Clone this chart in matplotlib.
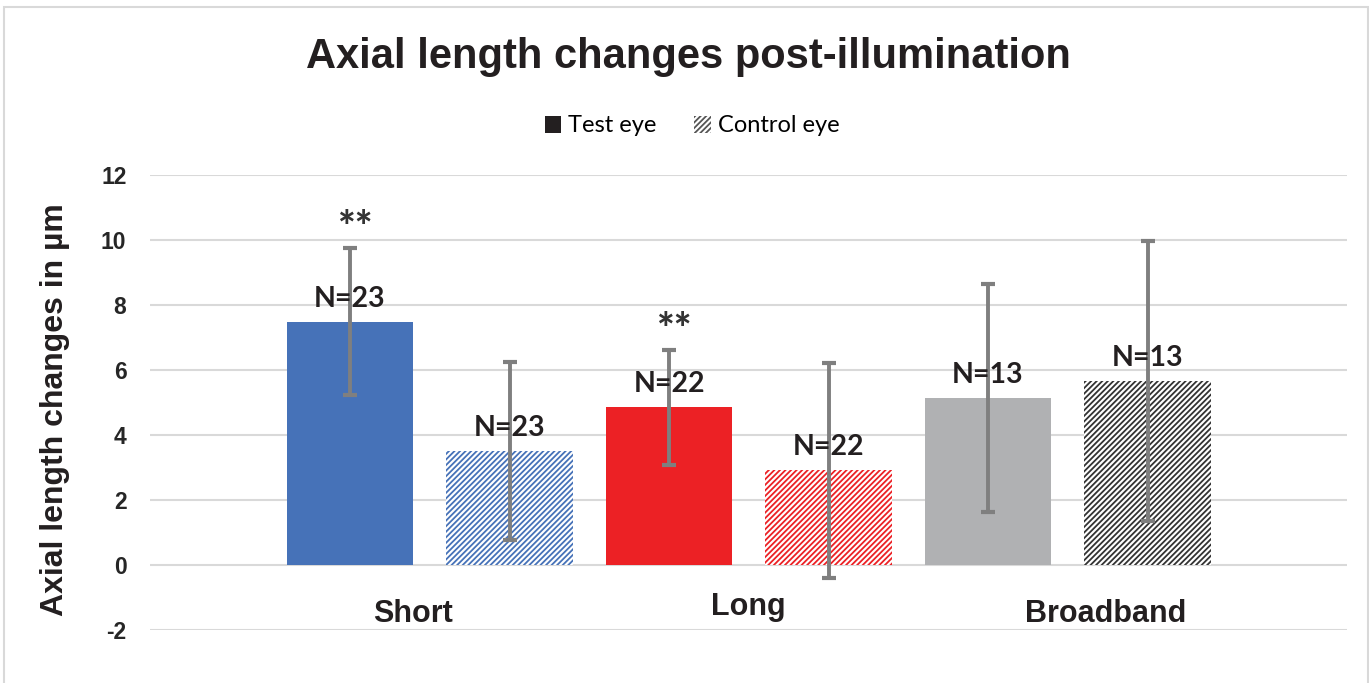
import matplotlib
matplotlib.use("Agg")
import matplotlib.pyplot as plt
from matplotlib.patches import Patch, Rectangle
import numpy as np

categories = ["Short", "Long", "Broadband"]
series = ["Test eye", "Control eye"]
test_vals = [7.48, 4.86, 5.14]
test_err = [2.26, 1.77, 3.52]
control_vals = [3.51, 2.92, 5.66]
control_err = [2.74, 3.31, 4.30]
test_n = ["N=23", "N=22", "N=13"]
control_n = ["N=23", "N=22", "N=13"]
stars = ["**", "**", ""]
yticks = [-2, 0, 2, 4, 6, 8, 10, 12]

colors = ["#4672B8", "#EC2125", "#B0B1B3"]
hatch_colors = ["#4672B8", "#EC2125", "#333333"]

plt.rcParams['axes.unicode_minus'] = False
plt.rcParams['hatch.linewidth'] = 1.3

W, H = 1369, 683
fig = plt.figure(figsize=(W / 100, H / 100), dpi=100)
ax = fig.add_axes([150 / W, (H - 630) / H, (1347 - 150) / W, (630 - 175) / H])

pitch = 1.0
width = 0.79
x_test = np.arange(len(categories)) * 2 * pitch
x_ctrl = x_test + pitch

ax.set_ylim(-2, 12)
ax.set_xlim((150 - 350) / 159.5, (1347 - 350) / 159.5)
ax.set_yticks(yticks)
ax.yaxis.grid(True, color="#D9D9D9", linewidth=1.5)
ax.set_axisbelow(True)
for s in ax.spines.values():
    s.set_visible(False)
ax.tick_params(axis="y", length=0, pad=17)
ax.tick_params(axis="x", length=0)
ax.set_xticks([])
for lab in ax.get_yticklabels():
    lab.set_fontfamily("Liberation Sans")
    lab.set_fontweight("bold")
    lab.set_fontsize(16.5)
    lab.set_color("#262626")

ax.bar(x_test, test_vals, width=width, color=colors, linewidth=0, zorder=2)
ax.bar(x_ctrl, control_vals, width=width, facecolor="white",
       edgecolor=hatch_colors, hatch="//////", linewidth=0, zorder=2)

err_kw = dict(fmt="none", ecolor="#7F7F7F", elinewidth=2.8, capsize=5, capthick=3, zorder=4)
ax.errorbar(x_test, test_vals, yerr=test_err, **err_kw)
ax.errorbar(x_ctrl, control_vals, yerr=control_err, **err_kw)

lab_kw = dict(ha="center", va="bottom", fontsize=20.5, fontweight="bold",
              family="Lato", color="#231F20", zorder=5)
for x, v, t in zip(x_test, test_vals, test_n):
    ax.annotate(t, (x, v), xytext=(0, 7), textcoords="offset points", **lab_kw)
for x, v, t in zip(x_ctrl, control_vals, control_n):
    ax.annotate(t, (x, v), xytext=(0, 7), textcoords="offset points", **lab_kw)
for x, v, e, s in zip(x_test, test_vals, test_err, stars):
    if s:
        ax.annotate(s, (x + 0.03, v + e), xytext=(0, 0), textcoords="offset points",
                    ha="center", va="bottom", fontsize=30, fontweight="black",
                    family="Lato", color="#333333")

cat_offsets = [-0.105, 0.0, 0.24]
cat_y = [-1.5, -1.3, -1.5]
for i, c in enumerate(categories):
    ax.text((x_test[i] + x_ctrl[i]) / 2 + cat_offsets[i], cat_y[i], c, ha="center", va="center",
            fontsize=22, fontweight="bold", family="Liberation Sans", color="#231F20")

ax.set_ylabel("Axial length changes in µm", fontsize=23, fontweight="bold",
              family="Liberation Sans", color="#231F20")
ax.yaxis.set_label_coords((70 - 150) / (1347 - 150), (630 - 410) / (630 - 175))

fig.text(688 / W, 1 - 57 / H, "Axial length changes post-illumination", ha="center", va="center",
         fontsize=30, fontweight="bold", family="Liberation Sans", color="#231F20")

handles = [Patch(facecolor="#231F20", edgecolor="#231F20", linewidth=0),
           Patch(facecolor="white", edgecolor="#555555", hatch="//////", linewidth=0)]
fig.legend(handles, series, loc="center", bbox_to_anchor=(692 / W, 1 - 126 / H), ncol=2,
           frameon=False, prop={"family": "Lato", "size": 17}, handlelength=0.7,
           handleheight=0.7, handletextpad=0.3, columnspacing=1.6)

fig.patches.append(Rectangle((4 / W, -0.01), (1364 / W), 1 - 7 / H + 0.01, transform=fig.transFigure,
                             fill=False, edgecolor="#D9D9D9", linewidth=1.5))

fig.savefig("out.png", dpi=100)
